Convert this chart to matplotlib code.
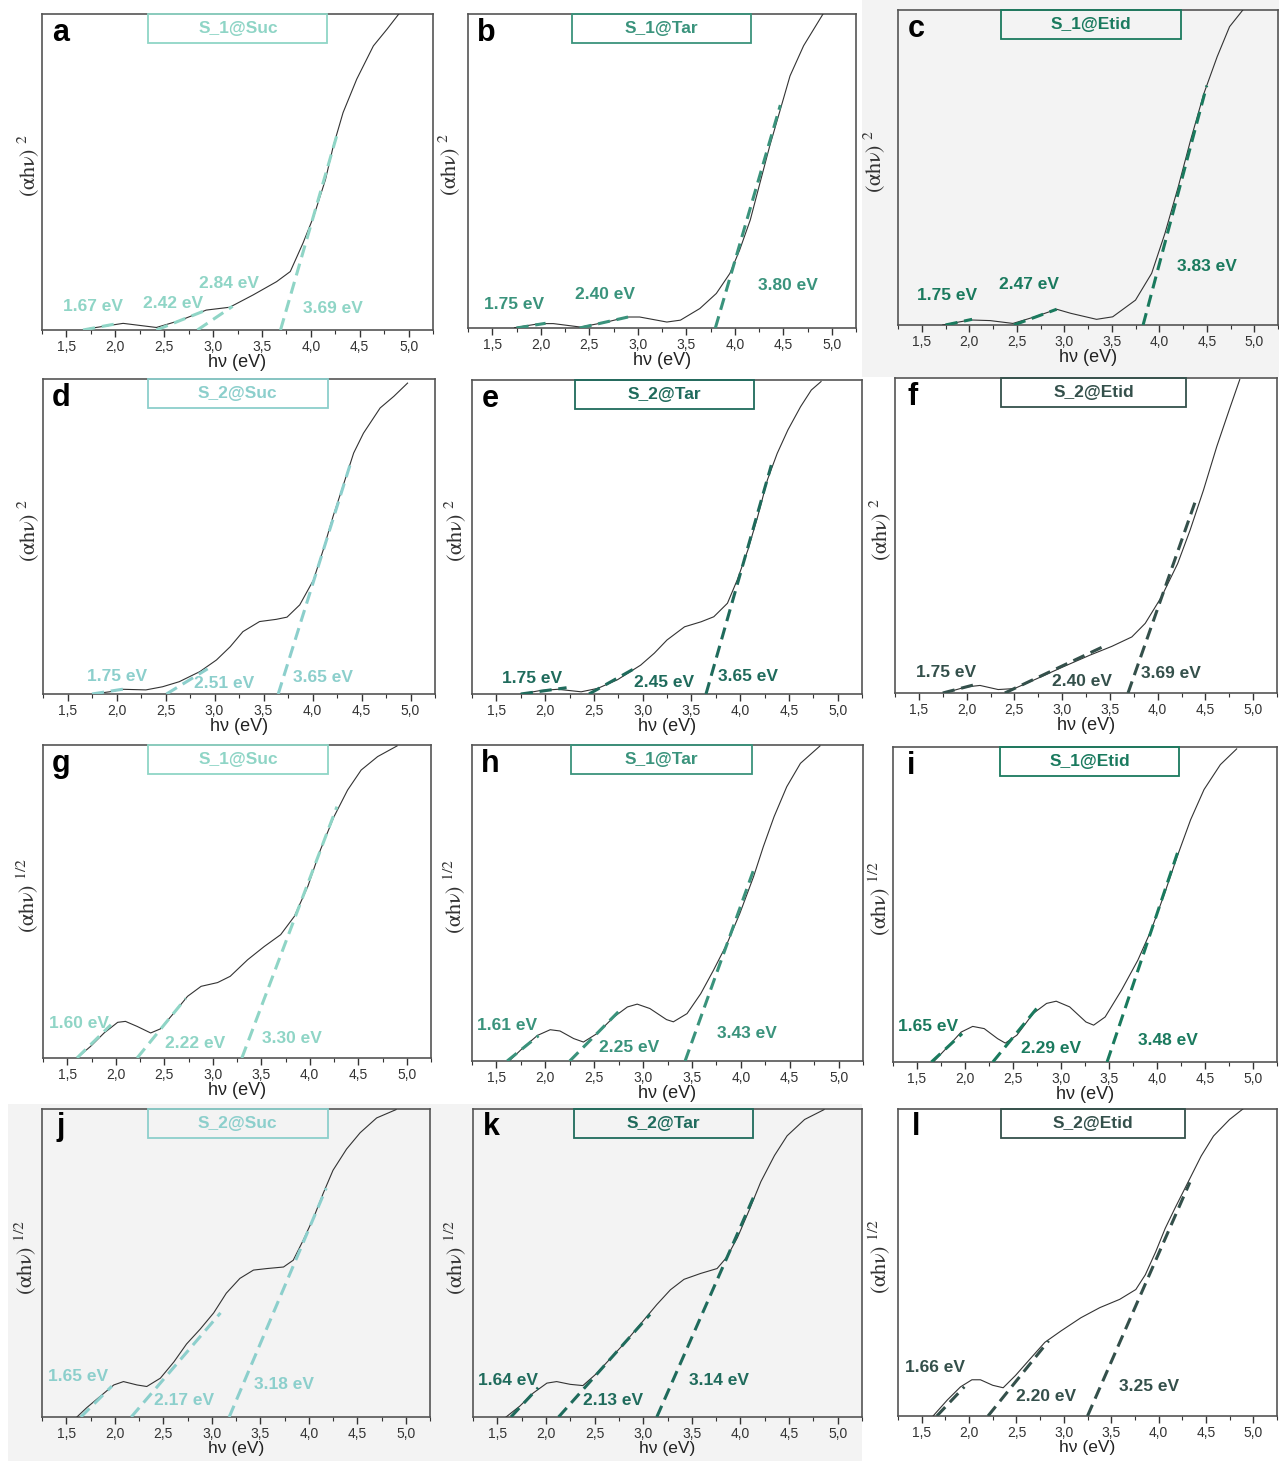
import matplotlib
matplotlib.use("Agg")
import matplotlib.pyplot as plt
from matplotlib.patches import Rectangle
from matplotlib.ticker import MultipleLocator

plt.rcParams['font.family'] = ['Liberation Sans', 'DejaVu Sans']
plt.rcParams['mathtext.fontset'] = 'stix'

# ---- data (x = photon energy in eV, y = normalised Tauc value) ----
a_E = [1.74, 2.08, 2.42, 2.66, 2.93, 3.17, 3.41, 3.65, 3.79, 3.92, 4.03, 4.15, 4.23, 4.33, 4.47, 4.64, 4.78, 4.90]
a_Y = [0.005, 0.021, 0.008, 0.030, 0.063, 0.072, 0.111, 0.153, 0.185, 0.275, 0.360, 0.476, 0.582, 0.688, 0.794, 0.899, 0.952, 1.0]
a_gap = [1.67, 2.42, 2.84, 3.69]
a_tanE = [2.05, 2.93, 3.20, 4.27]
a_tanY = [0.022, 0.063, 0.075, 0.62]

b_E = [1.73, 1.99, 2.13, 2.41, 2.68, 2.89, 3.02, 3.30, 3.44, 3.64, 3.81, 3.95, 4.05, 4.16, 4.26, 4.36, 4.47, 4.57, 4.71, 4.91]
b_Y = [0.001, 0.014, 0.014, 0.003, 0.019, 0.035, 0.035, 0.019, 0.025, 0.062, 0.110, 0.174, 0.248, 0.344, 0.462, 0.579, 0.696, 0.803, 0.899, 1.0]
b_gap = [1.75, 2.40, 3.80]
b_tanE = [2.05, 2.90, 4.47]
b_tanY = [0.015, 0.035, 0.71]

c_E = [1.72, 2.01, 2.22, 2.46, 2.69, 2.92, 3.07, 3.34, 3.51, 3.75, 3.92, 4.06, 4.20, 4.33, 4.47, 4.61, 4.74, 4.88]
c_Y = [0.0, 0.016, 0.014, 0.005, 0.026, 0.050, 0.037, 0.018, 0.026, 0.079, 0.164, 0.291, 0.439, 0.587, 0.735, 0.852, 0.947, 1.0]
c_gap = [1.75, 2.47, 3.83]
c_tanE = [2.03, 2.92, 4.50]
c_tanY = [0.018, 0.050, 0.76]

d_E = [1.76, 1.93, 2.06, 2.30, 2.47, 2.64, 2.85, 3.02, 3.16, 3.29, 3.46, 3.63, 3.74, 3.87, 4.01, 4.11, 4.21, 4.31, 4.42, 4.52, 4.69, 4.83, 4.97]
d_Y = [0.0, 0.007, 0.015, 0.013, 0.023, 0.039, 0.071, 0.108, 0.150, 0.198, 0.230, 0.237, 0.244, 0.283, 0.362, 0.458, 0.564, 0.659, 0.765, 0.828, 0.908, 0.945, 0.987]
d_gap = [1.75, 2.51, 3.65]
d_tanE = [2.08, 2.93, 4.40]
d_tanY = [0.016, 0.080, 0.744]

e_E = [1.75, 1.95, 2.13, 2.37, 2.54, 2.74, 2.98, 3.12, 3.25, 3.43, 3.60, 3.73, 3.87, 3.97, 4.08, 4.18, 4.28, 4.38, 4.49, 4.62, 4.73, 4.83]
e_Y = [0.0, 0.011, 0.015, 0.007, 0.018, 0.045, 0.092, 0.130, 0.172, 0.214, 0.230, 0.246, 0.289, 0.363, 0.459, 0.565, 0.682, 0.766, 0.841, 0.915, 0.968, 0.995]
e_gap = [1.75, 2.45, 3.65]
e_tanE = [2.22, 2.95, 4.32]
e_tanY = [0.020, 0.087, 0.729]

f_E = [1.77, 1.99, 2.14, 2.33, 2.50, 2.74, 3.01, 3.29, 3.52, 3.73, 3.87, 4.04, 4.21, 4.34, 4.48, 4.62, 4.75, 4.86]
f_Y = [0.0, 0.019, 0.024, 0.011, 0.014, 0.046, 0.083, 0.120, 0.148, 0.178, 0.221, 0.305, 0.411, 0.517, 0.644, 0.783, 0.899, 0.995]
f_gap = [1.75, 2.40, 3.69]
f_tanE = [2.13, 3.45, 4.40]
f_tanY = [0.030, 0.150, 0.613]

g_E = [1.60, 1.74, 1.88, 2.02, 2.10, 2.22, 2.36, 2.46, 2.60, 2.74, 2.88, 3.05, 3.18, 3.36, 3.53, 3.70, 3.84, 3.98, 4.11, 4.25, 4.39, 4.53, 4.70, 4.90]
g_Y = [0.0, 0.037, 0.080, 0.114, 0.117, 0.101, 0.080, 0.093, 0.144, 0.197, 0.229, 0.241, 0.261, 0.314, 0.356, 0.394, 0.452, 0.548, 0.665, 0.771, 0.856, 0.920, 0.963, 0.997]
g_gap = [1.60, 2.22, 3.30]
g_tanE = [1.95, 2.72, 4.28]
g_tanY = [0.106, 0.190, 0.803]

h_E = [1.63, 1.78, 1.92, 2.05, 2.15, 2.29, 2.39, 2.53, 2.70, 2.84, 2.94, 3.07, 3.24, 3.31, 3.45, 3.59, 3.72, 3.86, 3.99, 4.13, 4.23, 4.34, 4.47, 4.61, 4.81]
h_Y = [0.0, 0.044, 0.081, 0.099, 0.095, 0.071, 0.060, 0.087, 0.139, 0.171, 0.180, 0.166, 0.131, 0.124, 0.150, 0.213, 0.287, 0.372, 0.467, 0.583, 0.678, 0.773, 0.868, 0.942, 0.997]
h_gap = [1.61, 2.25, 3.43]
h_tanE = [1.93, 2.78, 4.13]
h_tanY = [0.080, 0.166, 0.604]

i_E = [1.67, 1.82, 1.96, 2.08, 2.20, 2.34, 2.42, 2.54, 2.71, 2.85, 2.95, 3.09, 3.26, 3.34, 3.46, 3.63, 3.80, 3.94, 4.08, 4.21, 4.35, 4.49, 4.66, 4.83]
i_Y = [0.0, 0.048, 0.095, 0.113, 0.106, 0.074, 0.060, 0.085, 0.154, 0.186, 0.193, 0.175, 0.127, 0.117, 0.143, 0.228, 0.323, 0.419, 0.536, 0.652, 0.769, 0.865, 0.944, 0.994]
i_gap = [1.65, 2.29, 3.48]
i_tanE = [1.97, 2.76, 4.23]
i_tanY = [0.090, 0.175, 0.679]

j_E = [1.61, 1.71, 1.85, 1.99, 2.09, 2.23, 2.33, 2.47, 2.61, 2.74, 2.88, 3.02, 3.15, 3.29, 3.43, 3.57, 3.74, 3.84, 3.94, 4.05, 4.15, 4.25, 4.39, 4.53, 4.70, 4.90]
j_Y = [0.0, 0.030, 0.067, 0.104, 0.115, 0.104, 0.099, 0.126, 0.179, 0.237, 0.285, 0.338, 0.402, 0.450, 0.477, 0.482, 0.487, 0.509, 0.572, 0.647, 0.727, 0.801, 0.870, 0.923, 0.971, 0.998]
j_gap = [1.65, 2.17, 3.18]
j_tanE = [1.97, 3.09, 4.18]
j_tanY = [0.100, 0.338, 0.743]

k_E = [1.59, 1.73, 1.87, 2.01, 2.11, 2.25, 2.38, 2.52, 2.66, 2.80, 2.97, 3.14, 3.28, 3.42, 3.59, 3.76, 3.86, 3.97, 4.10, 4.21, 4.35, 4.48, 4.66, 4.86]
k_Y = [0.0, 0.035, 0.078, 0.110, 0.115, 0.106, 0.102, 0.141, 0.189, 0.237, 0.301, 0.365, 0.413, 0.447, 0.466, 0.482, 0.519, 0.583, 0.679, 0.764, 0.849, 0.913, 0.966, 0.998]
k_gap = [1.64, 2.13, 3.14]
k_tanE = [1.92, 3.07, 4.16]
k_tanY = [0.095, 0.333, 0.732]

l_E = [1.62, 1.77, 1.91, 2.03, 2.12, 2.25, 2.36, 2.49, 2.63, 2.80, 2.97, 3.18, 3.38, 3.59, 3.76, 3.86, 3.97, 4.07, 4.17, 4.31, 4.45, 4.58, 4.75, 4.89]
l_Y = [0.0, 0.052, 0.095, 0.118, 0.118, 0.100, 0.092, 0.132, 0.181, 0.240, 0.277, 0.320, 0.353, 0.380, 0.412, 0.460, 0.535, 0.611, 0.675, 0.761, 0.847, 0.912, 0.966, 1.0]
l_gap = [1.66, 2.20, 3.25]
l_tanE = [1.95, 2.84, 4.33]
l_tanY = [0.095, 0.245, 0.761]

samples = ["S_1@Suc", "S_1@Tar", "S_1@Etid", "S_2@Suc", "S_2@Tar", "S_2@Etid"]
xticks = [1.5, 2.0, 2.5, 3.0, 3.5, 4.0, 4.5, 5.0]
xticklabels = ["1,5", "2,0", "2,5", "3,0", "3,5", "4,0", "4,5", "5,0"]

# ---- layout (pixels in the 1279x1461 canvas) ----
W, H = 1279, 1461
colors = {"S_1@Suc": "#8fd5c6", "S_2@Suc": "#8ccfcc", "S_1@Tar": "#3a937c",
          "S_1@Etid": "#1a7a5e", "S_2@Tar": "#1f6b5c", "S_2@Etid": "#34504b"}

panels = [
    # letter, sample, power, data, axes px (l, t, r, b), box x-range, label positions, gray?, ylabel offset px
    ("a", "S_1@Suc", "2", (a_E, a_Y, a_gap, a_tanE, a_tanY), (42, 14, 433, 330), (0.272, 0.730),
     [(1.77, 0.074), (2.59, 0.085), (3.16, 0.146), (4.23, 0.069)], False, -14),
    ("b", "S_1@Tar", "2", (b_E, b_Y, b_gap, b_tanE, b_tanY), (468, 14, 856, 328), (0.268, 0.729),
     [(1.72, 0.076), (2.66, 0.108), (4.55, 0.134)], False, -19),
    ("c", "S_1@Etid", "2", (c_E, c_Y, c_gap, c_tanE, c_tanY), (898, 10, 1278, 325), (0.271, 0.746),
     [(1.77, 0.095), (2.63, 0.127), (4.50, 0.185)], True, -24),
    ("d", "S_2@Suc", "2", (d_E, d_Y, d_gap, d_tanE, d_tanY), (43, 379, 435, 694), (0.268, 0.726),
     [(2.01, 0.055), (3.10, 0.034), (4.11, 0.053)], False, -15),
    ("e", "S_2@Tar", "2", (e_E, e_Y, e_gap, e_tanE, e_tanY), (472, 380, 862, 694), (0.263, 0.723),
     [(1.87, 0.050), (3.22, 0.036), (4.08, 0.057)], False, -17),
    ("f", "S_2@Etid", "2", (f_E, f_Y, f_gap, f_tanE, f_tanY), (895, 378, 1277, 693), (0.278, 0.761),
     [(1.78, 0.064), (3.21, 0.038), (4.14, 0.062)], False, -15),
    ("g", "S_1@Suc", "1/2", (g_E, g_Y, g_gap, g_tanE, g_tanY), (43, 745, 431, 1058), (0.271, 0.734),
     [(1.62, 0.110), (2.82, 0.046), (3.82, 0.061)], False, -15),
    ("h", "S_1@Tar", "1/2", (h_E, h_Y, h_gap, h_tanE, h_tanY), (472, 745, 863, 1061), (0.254, 0.715),
     [(1.61, 0.113), (2.86, 0.044), (4.06, 0.087)], False, -17),
    ("i", "S_1@Etid", "1/2", (i_E, i_Y, i_gap, i_tanE, i_tanY), (893, 747, 1277, 1062), (0.279, 0.745),
     [(1.62, 0.113), (2.90, 0.042), (4.11, 0.069)], False, -13),
    ("j", "S_2@Suc", "1/2", (j_E, j_Y, j_gap, j_tanE, j_tanY), (42, 1109, 430, 1417), (0.273, 0.736),
     [(1.62, 0.133), (2.71, 0.053), (3.74, 0.104)], True, -16),
    ("k", "S_2@Tar", "1/2", (k_E, k_Y, k_gap, k_tanE, k_tanY), (473, 1109, 862, 1417), (0.259, 0.721),
     [(1.61, 0.117), (2.69, 0.053), (3.78, 0.117)], True, -17),
    ("l", "S_2@Etid", "1/2", (l_E, l_Y, l_gap, l_tanE, l_tanY), (898, 1109, 1277, 1416), (0.271, 0.756),
     [(1.64, 0.157), (2.81, 0.065), (3.90, 0.097)], False, -18),
]

GRAY = "#f3f3f3"

fig = plt.figure(figsize=(W / 100, H / 100), dpi=100)
fig.patch.set_facecolor("white")


def fig_rect(l, t, r, b):
    return [l / W, 1 - b / H, (r - l) / W, (b - t) / H]


# gray backdrops behind some of the source sub-images
for (l, t, r, b) in [(862, 0, W, 377), (8, 1104, 862, H)]:
    x0, y0, w, h = fig_rect(l, t, r, b)
    fig.patches.append(Rectangle((x0, y0), w, h, transform=fig.transFigure,
                                 facecolor=GRAY, edgecolor="none", zorder=-5))

for letter, sample, power, data, px, box, label_pos, gray, yoff in panels:
    E, Y, gaps, tanE, tanY = data
    col = colors[sample]
    l, t, r, b = px
    wpx, hpx = r - l, b - t
    ax = fig.add_axes(fig_rect(l, t, r, b))
    ax.set_facecolor(GRAY if gray else "white")

    ax.plot(E, Y, color="#333333", lw=0.8, zorder=3)
    for g, xe, ye in zip(gaps, tanE, tanY):
        ax.plot([g, xe], [0, ye], color=col, lw=2.2, dashes=(4, 2.2), zorder=4)
    for g, (lx, ly) in zip(gaps, label_pos):
        ax.text(lx, ly, f"{g:.2f} eV", color=col, fontsize=12.5, fontweight="bold",
                ha="center", va="center", zorder=5)

    ax.set_xlim(1.25, 5.25)
    ax.set_ylim(0, 1)
    ax.set_xticks(xticks)
    ax.set_xticklabels(xticklabels)
    ax.xaxis.set_minor_locator(MultipleLocator(0.25))
    ax.set_yticks([])
    ax.tick_params(axis="x", which="major", direction="out", length=5, width=1,
                   labelsize=10, pad=2, colors="#333333")
    ax.tick_params(axis="x", which="minor", direction="out", length=3, width=0.8, colors="#333333")
    for sp in ax.spines.values():
        sp.set_color("#555555")
        sp.set_linewidth(1.2)

    bottom_row = b > 1400
    ax.set_xlabel("hν (eV)", fontsize=12.5 if bottom_row else 13, color="#222222")
    ax.xaxis.set_label_coords(0.5, -24 / hpx)
    ax.set_ylabel(r"$\mathrm{(\alpha h\nu)}\ ^{%s}$" % power, fontsize=16, color="#333333",
                  va="center")
    ax.yaxis.set_label_coords(yoff / wpx, 0.52)

    # sample name box
    bh = 29 / hpx
    ax.add_patch(Rectangle((box[0], 1 - bh), box[1] - box[0], bh, transform=ax.transAxes,
                           facecolor="none", edgecolor=col, lw=1.3, zorder=6, clip_on=False))
    ax.text((box[0] + box[1]) / 2, 1 - bh / 2, sample, transform=ax.transAxes, color=col,
            fontsize=12.5, fontweight="bold", ha="center", va="center", zorder=6)

    ax.text(0.047, 0.94, letter, transform=ax.transAxes, fontsize=22, fontweight="bold",
            ha="center", va="center", color="black", zorder=6)

fig.savefig("out.png", dpi=100)
